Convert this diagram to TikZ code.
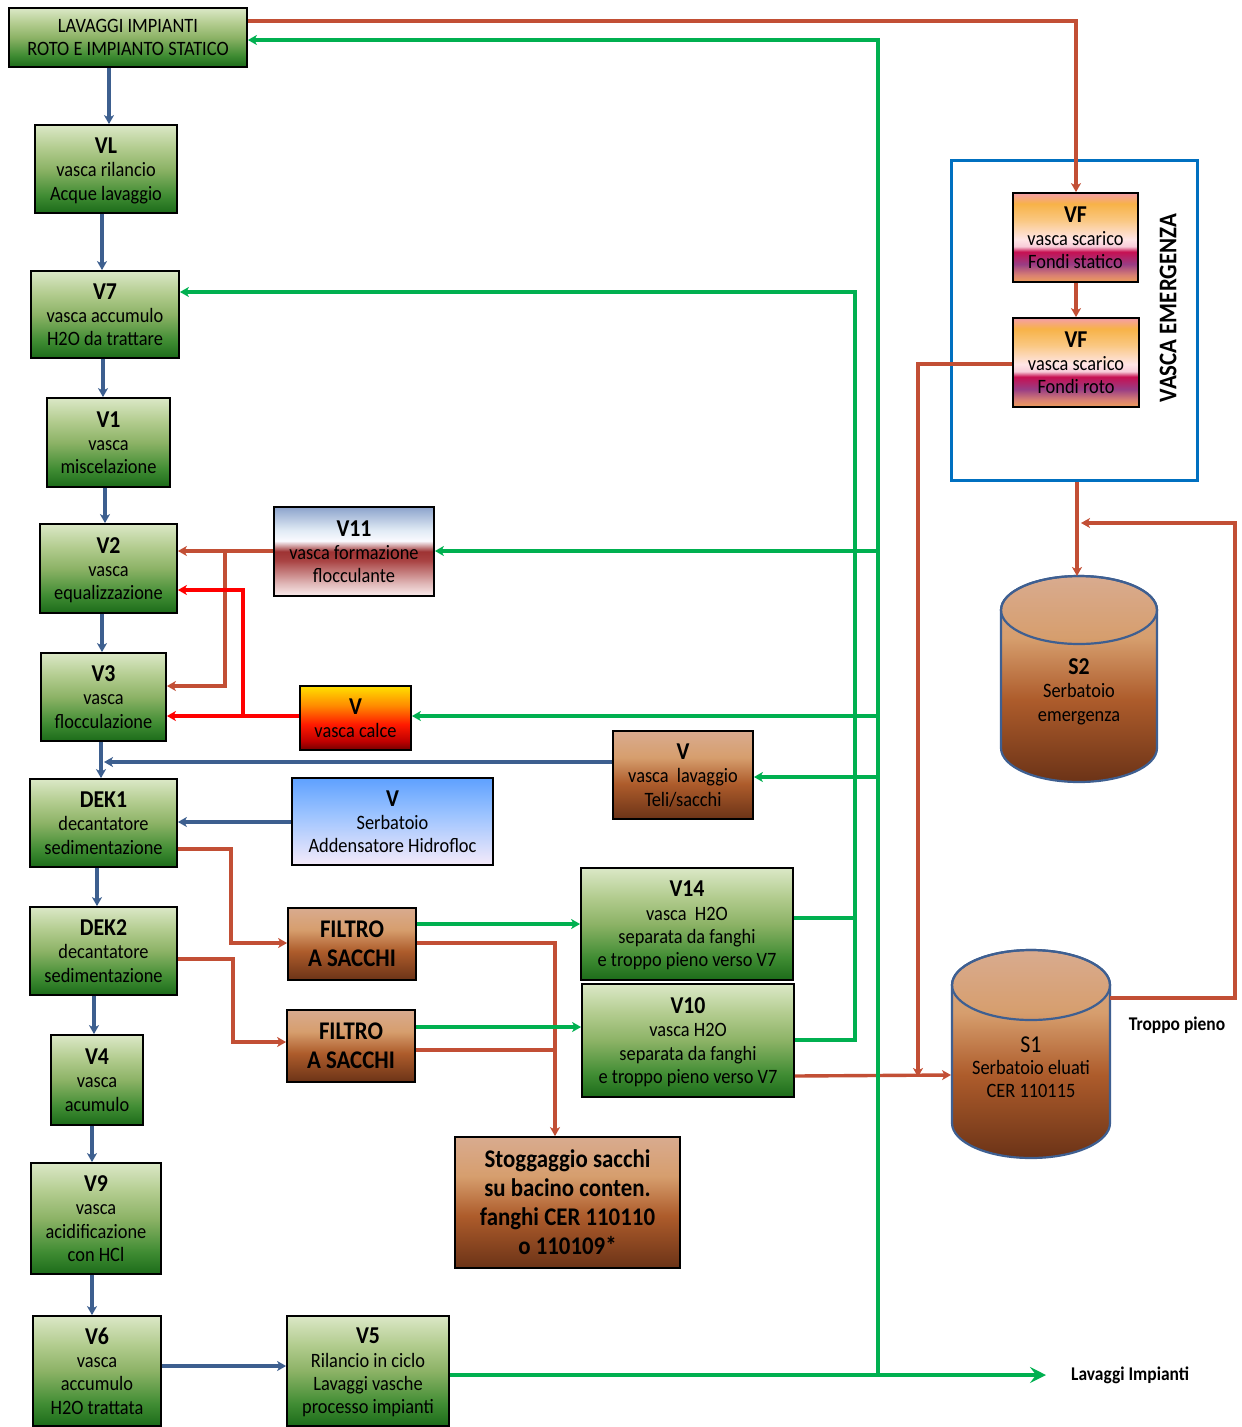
\documentclass[tikz,border=0pt]{standalone}
\usepackage{fontspec}
\setmainfont{Carlito}[FakeStretch=0.9]
\usetikzlibrary{arrows.meta}
\definecolor{cblue}{HTML}{3D5F8F}
\definecolor{cred}{HTML}{C24F35}
\definecolor{cgreen}{HTML}{00B050}
\definecolor{crect}{HTML}{0070C0}
\definecolor{cylline}{HTML}{3E5F91}
\pgfdeclareverticalshading{greensh}{100bp}{rgb(0bp)=(0.11,0.42,0.10); rgb(25bp)=(0.11,0.42,0.10); rgb(35bp)=(0.25,0.55,0.20); rgb(50bp)=(0.55,0.70,0.40); rgb(62bp)=(0.70,0.80,0.56); rgb(75bp)=(0.86,0.91,0.78); rgb(100bp)=(0.86,0.91,0.78)}
\pgfdeclareverticalshading{brownsh}{100bp}{rgb(0bp)=(0.42,0.20,0.09); rgb(25bp)=(0.42,0.20,0.09); rgb(45bp)=(0.68,0.36,0.17); rgb(60bp)=(0.84,0.62,0.43); rgb(75bp)=(0.85,0.67,0.56); rgb(100bp)=(0.85,0.67,0.56)}
\pgfdeclareverticalshading{bluewsh}{100bp}{rgb(0bp)=(0.96,0.92,0.98); rgb(25bp)=(0.96,0.92,0.98); rgb(55bp)=(0.60,0.76,1.0); rgb(75bp)=(0.37,0.63,1.0); rgb(100bp)=(0.37,0.63,1.0)}
\pgfdeclareverticalshading{flocsh}{100bp}{rgb(0bp)=(0.98,0.93,0.93); rgb(25bp)=(0.98,0.93,0.93); rgb(32bp)=(0.88,0.72,0.72); rgb(45bp)=(0.66,0.26,0.26); rgb(50bp)=(0.62,0.20,0.20); rgb(56bp)=(0.98,0.98,1.0); rgb(62bp)=(0.88,0.92,0.96); rgb(75bp)=(0.55,0.64,0.80); rgb(100bp)=(0.55,0.64,0.80)}
\pgfdeclareverticalshading{calcesh}{100bp}{rgb(0bp)=(0.45,0,0); rgb(25bp)=(0.45,0,0); rgb(32bp)=(0.75,0,0); rgb(45bp)=(1,0.1,0); rgb(60bp)=(1,0.55,0); rgb(75bp)=(1,0.88,0); rgb(100bp)=(1,0.88,0)}
\pgfdeclareverticalshading{vfsh}{100bp}{rgb(0bp)=(0.93,0.62,0.35); rgb(25bp)=(0.93,0.62,0.35); rgb(29bp)=(0.85,0.50,0.45); rgb(35bp)=(0.60,0.24,0.52); rgb(42bp)=(0.78,0.06,0.32); rgb(45bp)=(0.97,0.80,0.85); rgb(49bp)=(1.0,0.90,0.90); rgb(60bp)=(0.98,0.78,0.50); rgb(69bp)=(0.97,0.70,0.28); rgb(75bp)=(0.96,0.62,0.66); rgb(100bp)=(0.96,0.62,0.66)}
\newcommand{\ttl}[1]{{\fontsize{24.2}{25}\selectfont\bfseries #1}}
\begin{document}
\begin{tikzpicture}[x=1pt,y=-1pt,
  box/.style={draw=black, line width=1.8pt, inner sep=0pt, align=center, text depth=0pt, font=\fontsize{20.4}{23.3}\selectfont, shade},
  gbox/.style={box, shading=greensh},
  bbox/.style={box, shading=brownsh},
  bold/.style={font=\fontsize{25.4}{29}\selectfont\bfseries},
  bl/.style={cblue, line width=3.8pt, -{Stealth[length=9pt,width=10pt,inset=2.5pt]}},
  blp/.style={cblue, line width=3.8pt},
  rd/.style={cred, line width=3.4pt, -{Stealth[length=9pt,width=10pt,inset=2.5pt]}},
  rdp/.style={cred, line width=3.4pt},
  rr/.style={red, line width=3.2pt, -{Stealth[length=9pt,width=10pt,inset=2.5pt]}},
  rrp/.style={red, line width=3.2pt},
  gr/.style={cgreen, line width=3.4pt, -{Stealth[length=9pt,width=10pt,inset=2.5pt]}},
  grp/.style={cgreen, line width=3.4pt},
  lbl/.style={font=\fontsize{19.4}{22}\selectfont\bfseries, inner sep=0pt}
]
\useasboundingbox (0,0) rectangle (1242,1427);

% left chain
\node[gbox, minimum width=238, minimum height=59] (LAV) at (128,37.5) {LAVAGGI IMPIANTI\\ROTO E IMPIANTO STATICO};
\node[gbox, minimum width=142, minimum height=88] (VL) at (106,169) {\ttl{VL}\\vasca rilancio\\Acque lavaggio};
\node[gbox, minimum width=148, minimum height=87] (V7) at (105,314.5) {\ttl{V7}\\vasca accumulo\\H2O da trattare};
\node[gbox, minimum width=123, minimum height=89] (V1) at (108.5,442.5) {\ttl{V1}\\vasca\\miscelazione};
\node[gbox, minimum width=137, minimum height=89] (V2) at (108.5,568.5) {\ttl{V2}\\vasca\\equalizzazione};
\node[gbox, minimum width=125, minimum height=88] (V3) at (103.5,697) {\ttl{V3}\\vasca\\flocculazione};
\node[gbox, minimum width=147, minimum height=88] (DEK1) at (103.5,823) {\ttl{DEK1}\\decantatore\\sedimentazione};
\node[gbox, minimum width=147, minimum height=88] (DEK2) at (103.5,951) {\ttl{DEK2}\\decantatore\\sedimentazione};
\node[gbox, minimum width=92, minimum height=90] (V4) at (97,1080) {\ttl{V4}\\vasca\\acumulo};
\node[gbox, minimum width=130, minimum height=111] (V9) at (96,1218.5) {\ttl{V9}\\vasca\\acidificazione\\con HCl};
\node[gbox, minimum width=128, minimum height=110] (V6) at (97,1371) {\ttl{V6}\\vasca\\accumulo\\H2O trattata};
\node[gbox, minimum width=162, minimum height=110] (V5) at (368,1371) {\ttl{V5}\\Rilancio in ciclo\\Lavaggi vasche\\processo impianti};

% middle boxes
\node[box, shading=flocsh, minimum width=160, minimum height=89] (V11) at (354,551.5) {\ttl{V11}\\vasca formazione\\flocculante};
\node[box, shading=calcesh, minimum width=111, minimum height=64] (VC) at (355.5,718) {\ttl{V}\\vasca calce};
\node[bbox, minimum width=140, minimum height=88] (VLT) at (683,775) {\ttl{V}\\vasca\ \ lavaggio\\Teli/sacchi};
\node[box, shading=bluewsh, minimum width=201, minimum height=87] (VS) at (392.5,821.5) {\ttl{V}\\Serbatoio\\Addensatore Hidrofloc};
\node[bbox, bold, minimum width=128, minimum height=72] (F1) at (352,944) {FILTRO\\A SACCHI};
\node[bbox, bold, minimum width=128, minimum height=72] (F2) at (351,1046) {FILTRO\\A SACCHI};
\node[gbox, minimum width=212, minimum height=112] (V14) at (687,924) {\ttl{V14}\\vasca\ \ H2O\\separata da fanghi\\e troppo pieno verso V7};
\node[gbox, minimum width=212, minimum height=113] (V10) at (688,1040.5) {\ttl{V10}\\vasca H2O\\separata da fanghi\\e troppo pieno verso V7};
\node[bbox, bold, minimum width=225, minimum height=131] (ST) at (567.5,1202.5) {Stoggaggio sacchi\\su bacino conten.\\fanghi CER 110110\\o 110109*};

% emergency
\node[draw=crect, line width=3pt, minimum width=246, minimum height=320, inner sep=0pt] (EM) at (1074,320) {};
\node[box, shading=vfsh, minimum width=125, minimum height=89] (VF1) at (1075.5,237.5) {\ttl{VF}\\vasca scarico\\Fondi statico};
\node[box, shading=vfsh, minimum width=126, minimum height=89] (VF2) at (1076,362.5) {\ttl{VF}\\vasca scarico\\Fondi roto};
\node[font=\fontsize{25.4}{27}\selectfont\bfseries, rotate=90, inner sep=0pt] (VE) at (1168,308) {VASCA EMERGENZA};

% cylinders
\shade[shading=brownsh] (1001,610) arc[start angle=180, end angle=360, x radius=78, y radius=34] -- (1157,748) arc[start angle=0, end angle=180, x radius=78, y radius=34] -- cycle;
\draw[cylline, line width=2.2pt] (1001,610) arc[start angle=180, end angle=360, x radius=78, y radius=34] -- (1157,748) arc[start angle=0, end angle=180, x radius=78, y radius=34] -- cycle;
\draw[cylline, line width=2.2pt] (1079,610) ellipse[x radius=78, y radius=34];
\node[align=center, font=\fontsize{20.4}{23.3}\selectfont, text depth=0pt, inner sep=0pt] (S2) at (1079,690) {\ttl{S2}\\Serbatoio\\emergenza};
\coordinate (S2top) at (1077,576);

\shade[shading=brownsh] (952,985) arc[start angle=180, end angle=360, x radius=79, y radius=35] -- (1110,1123) arc[start angle=0, end angle=180, x radius=79, y radius=35] -- cycle;
\draw[cylline, line width=2.2pt] (952,985) arc[start angle=180, end angle=360, x radius=79, y radius=35] -- (1110,1123) arc[start angle=0, end angle=180, x radius=79, y radius=35] -- cycle;
\draw[cylline, line width=2.2pt] (1031,985) ellipse[x radius=79, y radius=35];
\node[align=center, font=\fontsize{20.4}{22.5}\selectfont, text depth=0pt, inner sep=0pt] (S1) at (1031,1067) {{\fontsize{24.2}{25}\selectfont S1}\\Serbatoio eluati\\CER 110115};
\coordinate (S1w) at (951,1075);
\coordinate (S1e) at (1110,998);
\coordinate (S2in) at (1081,523);

\node[lbl] (TP) at (1177,1025) {Troppo pieno};
\node[lbl, anchor=west] (LI) at (1071,1375) {Lavaggi Impianti};
\coordinate (LIa) at (1046,1375);

% blue connectors
\draw[bl] (109,0 |- LAV.south) -- (109,0 |- VL.north);
\draw[bl] (102,0 |- VL.south) -- (102,0 |- V7.north);
\draw[bl] (103,0 |- V7.south) -- (103,0 |- V1.north);
\draw[bl] (105,0 |- V1.south) -- (105,0 |- V2.north);
\draw[bl] (102,0 |- V2.south) -- (102,0 |- V3.north);
\draw[bl] (101,0 |- V3.south) -- (101,0 |- DEK1.north);
\draw[bl] (97,0 |- DEK1.south) -- (97,0 |- DEK2.north);
\draw[bl] (94,0 |- DEK2.south) -- (94,0 |- V4.north);
\draw[bl] (92,0 |- V4.south) -- (92,0 |- V9.north);
\draw[bl] (92,0 |- V9.south) -- (92,0 |- V6.north);
\draw[bl] (V6.east |- 0,1366) -- (V5.west |- 0,1366);
\draw[bl] (VLT.west |- 0,762) -- (104,762);
\draw[bl] (VS.west |- 0,822) -- (DEK1.east |- 0,822);

% red-brown connectors
\draw[rd] (V11.west |- 0,551) -- (V2.east |- 0,551);
\draw[rd] (225,551) -- (225,686) -- (V3.east |- 0,686);
\draw[rd] (DEK1.east |- 0,849) -- (231,849) -- (231,943) -- (F1.west |- 0,943);
\draw[rd] (DEK2.east |- 0,959) -- (233,959) -- (233,1042) -- (F2.west |- 0,1042);
\draw[rd] (F1.east |- 0,943) -- (555,943) -- (555,0 |- ST.north);
\draw[rdp] (F2.east |- 0,1050) -- (555,1050);
\draw[rd] (V10.east |- 0,1076) -- (S1w);
\draw[rd] (VF2.west |- 0,364) -- (918,364) -- (918,1077);
\draw[rd] (LAV.east |- 0,21) -- (1076,21) -- (1076,0 |- VF1.north);
\draw[rd] (1076,0 |- VF1.south) -- (1076,0 |- VF2.north);
\draw[rd] (1077,0 |- EM.south) -- (S2top);
\draw[rd] (S1e) -- (1235,998) -- (1235,523) -- (S2in);

% bright red
\draw[rr] (VC.west |- 0,716) -- (V3.east |- 0,716);
\draw[rr] (243,716) -- (243,590) -- (V2.east |- 0,590);

% green connectors
\draw[cgreen, line width=3.4pt, -{Stealth[length=16pt,width=16pt,inset=6pt]}] (V5.east |- 0,1375) -- (LIa);
\draw[gr] (878,1376) -- (878,40) -- (LAV.east |- 0,40);
\draw[gr] (878,551) -- (V11.east |- 0,551);
\draw[gr] (878,716) -- (VC.east |- 0,716);
\draw[gr] (878,777) -- (VLT.east |- 0,777);
\draw[gr] (F1.east |- 0,924) -- (V14.west |- 0,924);
\draw[gr] (F2.east |- 0,1027) -- (V10.west |- 0,1027);
\draw[grp] (V14.east |- 0,918) -- (856.7,918);
\draw[gr] (V10.east |- 0,1040) -- (855,1040) -- (855,292) -- (V7.east |- 0,292);
\end{tikzpicture}
\end{document}
